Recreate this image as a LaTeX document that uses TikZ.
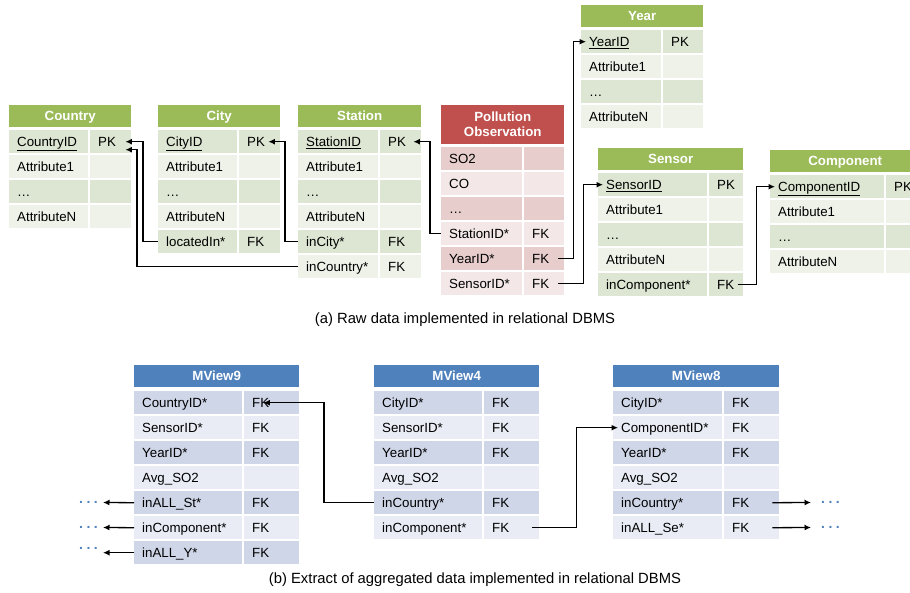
\documentclass[tikz,border=0pt]{standalone}
\usepackage{fontspec}
\setmainfont{Liberation Sans}
\usepackage{xcolor}
\usetikzlibrary{arrows.meta,calc}
\definecolor{gHead}{HTML}{9BBB59}
\definecolor{gDark}{HTML}{DCE6D2}
\definecolor{gLight}{HTML}{EEF2E9}
\definecolor{rHead}{HTML}{C0504D}
\definecolor{rDark}{HTML}{E8CDCD}
\definecolor{rLight}{HTML}{F3E7E7}
\definecolor{bHead}{HTML}{4F81BD}
\definecolor{bDark}{HTML}{CFD6E8}
\definecolor{bLight}{HTML}{E9ECF5}

\begin{document}
\begin{tikzpicture}[x=1pt,y=-1pt,font=\fontsize{13.3}{15}\selectfont]
	\tikzstyle{head} = [anchor=north west, fill=#1, text=white, font=\fontsize{13.3}{15}\selectfont\bfseries, minimum height=22pt, inner sep=0pt, text height=9.5pt, text depth=0pt, align=center]
	\tikzstyle{fld} = [anchor=north west, text width=#1, minimum height=23pt, inner sep=0pt, inner xsep=8pt, text height=9.5pt, text depth=0pt, align=left]
	\tikzstyle{arrow} = [line width=1.3pt,-{Latex[length=6.5pt,width=6pt]}]
	\tikzstyle{more} = [text=bHead, font=\fontsize{14}{14}\selectfont\bfseries, inner sep=0pt, inner xsep=5pt, text height=2.2pt, text depth=0pt]
	\tikzstyle{caption} = [font=\fontsize{14.8}{17}\selectfont]
  \useasboundingbox (0,0) rectangle (910,593);
  \clip (0,0) rectangle (910,593);

  % (a) raw data
  \node(country)[head=gHead, minimum width=122pt] at (9,105) {Country};
  \foreach \t/\k [count=\i] in {\underline{CountryID}/PK, Attribute1/{}, \ldots/{}, AttributeN/{}}{
    \ifodd\i \def\rc{gDark}\else \def\rc{gLight}\fi
    \node(country-\i)[fld=63pt, fill=\rc] at (9,{130+25*(\i-1)}) {\t};
    \node(country-\i-k)[fld=25pt, fill=\rc] at (90,{130+25*(\i-1)}) {\k};
  }
  \node(city)[head=gHead, minimum width=122pt] at (158,105) {City};
  \foreach \t/\k [count=\i] in {\underline{CityID}/PK, Attribute1/{}, \ldots/{}, AttributeN/{}, locatedIn*/FK}{
    \ifodd\i \def\rc{gDark}\else \def\rc{gLight}\fi
    \node(city-\i)[fld=63pt, fill=\rc] at (158,{130+25*(\i-1)}) {\t};
    \node(city-\i-k)[fld=25pt, fill=\rc] at (239,{130+25*(\i-1)}) {\k};
  }
  \node(station)[head=gHead, minimum width=123pt] at (298,105) {Station};
  \foreach \t/\k [count=\i] in {\underline{StationID}/PK, Attribute1/{}, \ldots/{}, AttributeN/{}, inCity*/FK, inCountry*/FK}{
    \ifodd\i \def\rc{gDark}\else \def\rc{gLight}\fi
    \node(station-\i)[fld=64pt, fill=\rc] at (298,{130+25*(\i-1)}) {\t};
    \node(station-\i-k)[fld=25pt, fill=\rc] at (380,{130+25*(\i-1)}) {\k};
  }
  \node(poll)[head=rHead, minimum width=123pt, minimum height=39pt, text height=, text depth=] at (441,105) {Pollution\\Observation};
  \foreach \t/\k [count=\i] in {SO2/{}, CO/{}, \ldots/{}, StationID*/FK, YearID*/FK, SensorID*/FK}{
    \ifodd\i \def\rc{rDark}\else \def\rc{rLight}\fi
    \node(poll-\i)[fld=65pt, fill=\rc] at (441,{147+25*(\i-1)}) {\t};
    \node(poll-\i-k)[fld=24pt, fill=\rc] at (524,{147+25*(\i-1)}) {\k};
  }
  \node(year)[head=gHead, minimum width=122pt] at (581,5) {Year};
  \foreach \t/\k [count=\i] in {\underline{YearID}/PK, Attribute1/{}, \ldots/{}, AttributeN/{}}{
    \ifodd\i \def\rc{gDark}\else \def\rc{gLight}\fi
    \node(year-\i)[fld=64pt, fill=\rc] at (581,{30+25*(\i-1)}) {\t};
    \node(year-\i-k)[fld=24pt, fill=\rc] at (663,{30+25*(\i-1)}) {\k};
  }
  \node(sensor)[head=gHead, minimum width=145pt] at (598,148) {Sensor};
  \foreach \t/\k [count=\i] in {\underline{SensorID}/PK, Attribute1/{}, \ldots/{}, AttributeN/{}, inComponent*/FK}{
    \ifodd\i \def\rc{gDark}\else \def\rc{gLight}\fi
    \node(sensor-\i)[fld=93pt, fill=\rc] at (598,{173+25*(\i-1)}) {\t};
    \node(sensor-\i-k)[fld=18pt, fill=\rc] at (709,{173+25*(\i-1)}) {\k};
  }
  \node(comp)[head=gHead, minimum width=150pt] at (770,150) {Component};
  \foreach \t/\k [count=\i] in {\underline{ComponentID}/PK, Attribute1/{}, \ldots/{}, AttributeN/{}}{
    \ifodd\i \def\rc{gDark}\else \def\rc{gLight}\fi
    \node(comp-\i)[fld=98pt, fill=\rc] at (770,{175+25*(\i-1)}) {\t};
    \node(comp-\i-k)[fld=18pt, fill=\rc] at (886,{175+25*(\i-1)}) {\k};
  }
  \node(capa)[caption] at (465,320) {(a) Raw data implemented in relational DBMS};

  \draw [arrow] (city-5.west) -- ++(-15,0) |- ([xshift=-6pt]country-1-k.east);
  \draw [arrow] (station-6.west) -- ++(-161,0) |- ([xshift=-6pt,yshift=-8pt]country-1-k.east);
  \draw [arrow] (station-5.west) -- ++(-13,0) |- ([xshift=-12pt]city-1-k.east);
  \draw [arrow] (poll-4.west) -- ++(-11,0) |- ([xshift=-8pt]station-1-k.east);
  \draw [arrow] ([xshift=-6pt]poll-5-k.east) -- ++(15,0) |- ([xshift=5pt]year-1.west);
  \draw [arrow] ([xshift=-6pt]poll-6-k.east) -- ++(25,0) |- ([xshift=5pt]sensor-1.west);
  \draw [arrow] ([xshift=-5pt]sensor-5-k.east) -- ++(18,0) |- ([xshift=5pt]comp-1.west);

  % (b) aggregated data
  \node(mv9)[head=bHead, minimum width=165pt] at (134,365) {MView9};
  \foreach \t/\k [count=\i] in {CountryID*/FK, SensorID*/FK, YearID*/FK, Avg\_SO2/{}, inALL\_St*/FK, inComponent*/FK, inALL\_Y*/FK}{
    \ifodd\i \def\rc{bDark}\else \def\rc{bLight}\fi
    \node(mv9-\i)[fld=92pt, fill=\rc] at (134,{391+25*(\i-1)}) {\t};
    \node(mv9-\i-k)[fld=39pt, fill=\rc] at (244,{391+25*(\i-1)}) {\k};
  }
  \node(mv4)[head=bHead, minimum width=165pt] at (374,365) {MView4};
  \foreach \t/\k [count=\i] in {CityID*/FK, SensorID*/FK, YearID*/FK, Avg\_SO2/{}, inCountry*/FK, inComponent*/FK}{
    \ifodd\i \def\rc{bDark}\else \def\rc{bLight}\fi
    \node(mv4-\i)[fld=92pt, fill=\rc] at (374,{391+25*(\i-1)}) {\t};
    \node(mv4-\i-k)[fld=39pt, fill=\rc] at (484,{391+25*(\i-1)}) {\k};
  }
  \node(mv8)[head=bHead, minimum width=166pt] at (613,365) {MView8};
  \foreach \t/\k [count=\i] in {CityID*/FK, ComponentID*/FK, YearID*/FK, Avg\_SO2/{}, inCountry*/FK, inALL\_Se*/FK}{
    \ifodd\i \def\rc{bDark}\else \def\rc{bLight}\fi
    \node(mv8-\i)[fld=93pt, fill=\rc] at (613,{391+25*(\i-1)}) {\t};
    \node(mv8-\i-k)[fld=39pt, fill=\rc] at (724,{391+25*(\i-1)}) {\k};
  }
  \node(dl1)[more, anchor=east] at (103,502.5) {.\hspace{3.5pt}.\hspace{3.5pt}.};
  \node(dl2)[more, anchor=east] at (103,527.5) {.\hspace{3.5pt}.\hspace{3.5pt}.};
  \node(dl3)[more, anchor=east] at (103,548) {.\hspace{3.5pt}.\hspace{3.5pt}.};
  \node(dr1)[more, anchor=west, inner xsep=10pt] at (811,502.5) {.\hspace{3.5pt}.\hspace{3.5pt}.};
  \node(dr2)[more, anchor=west, inner xsep=10pt] at (811,527.5) {.\hspace{3.5pt}.\hspace{3.5pt}.};
  \node(capb)[caption] at (475,580) {(b) Extract of aggregated data implemented in relational DBMS};

  \draw [arrow] (mv4-5.west) -- ++(-50,0) |- ([xshift=-36pt]mv9-1-k.east);
  \draw [arrow] ([xshift=-7pt]mv4-6-k.east) -- ++(44,0) |- ([xshift=5pt]mv8-2.west);
  \draw [arrow] (mv9-5.west) -- (dl1.east);
  \draw [arrow] (mv9-6.west) -- (dl2.east);
  \draw [arrow] (mv9-7.west) -- (dl3.east |- mv9-7.west);
  \draw [arrow] ([xshift=-7pt]mv8-5-k.east) -- (dr1.west);
  \draw [arrow] ([xshift=-7pt]mv8-6-k.east) -- (dr2.west);
\end{tikzpicture}
\end{document}
